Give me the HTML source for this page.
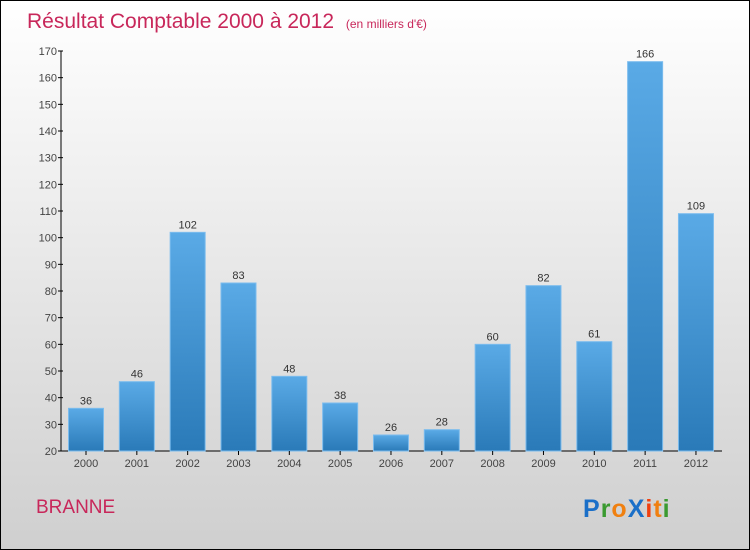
<!DOCTYPE html>
<html><head><meta charset="utf-8"><style>
body{margin:0}
#c{width:748px;height:548px;border:1px solid #000;background:linear-gradient(#fff,#cfcfcf);position:relative;font-family:"Liberation Sans",sans-serif;overflow:hidden}
</style></head><body>
<div id="c">
<svg id="s" width="748" height="548" xmlns="http://www.w3.org/2000/svg">
<defs><linearGradient id="g" x1="0" y1="0" x2="0" y2="1"><stop offset="0" stop-color="#5aaae6"/><stop offset="1" stop-color="#2a7ab8"/></linearGradient></defs>
<text x="26" y="27" font-size="21" fill="#c8275a">Résultat Comptable 2000 à 2012 <tspan font-size="12" dx="6">(en milliers d'€)</tspan></text>
<text x="35" y="512" font-size="19" fill="#c8275a">BRANNE</text>
<text x="582" y="516" font-size="25" font-weight="bold" letter-spacing="1"><tspan fill="#1a6fc8">P</tspan><tspan fill="#3a9a30">r</tspan><tspan fill="#f08010">o</tspan><tspan fill="#1a6fc8">X</tspan><tspan fill="#f04010">i</tspan><tspan fill="#f08010">t</tspan><tspan fill="#3a9a30">i</tspan></text>
<g id="plot"></g>
</svg></div>
<script>
const years=["2000","2001","2002","2003","2004","2005","2006","2007","2008","2009","2010","2011","2012"];
const values=[36,46,102,83,48,38,26,28,60,82,61,166,109];
const yTicks=[20,30,40,50,60,70,80,90,100,110,120,130,140,150,160,170];
const NS="http://www.w3.org/2000/svg",p=document.getElementById('plot');
const y=v=>450-(v-20)*400/150, x=i=>85+i*50.83;
function mk(t,a,txt){const e=document.createElementNS(NS,t);for(const k in a)e.setAttribute(k,a[k]);if(txt!=null)e.textContent=txt;p.appendChild(e);return e;}
let e=mk('line',{x1:60,y1:50,x2:60,y2:450,stroke:'#000'});

e=mk('line',{x1:60,y1:450,x2:721,y2:450,stroke:'#000'});

yTicks.forEach(v=>{mk('line',{x1:57,x2:62,y1:y(v),y2:y(v),stroke:'#000'});
e=mk('text',{x:56,y:y(v)+4,'font-size':11,'text-anchor':'end',fill:'#444'},v);
});
values.forEach((v,i)=>{
e=mk('rect',{x:x(i)-17.5,y:y(v),width:35,height:450-y(v),fill:'url(#g)',stroke:'#7bbcee','stroke-width':1});

e=mk('text',{x:x(i),y:y(v)-4,'font-size':11,'text-anchor':'middle',fill:'#333'},v);

mk('line',{x1:x(i),x2:x(i),y1:450,y2:454,stroke:'#000'});
e=mk('text',{x:x(i),y:466,'font-size':11,'text-anchor':'middle',fill:'#444'},years[i]);
});
</script>
</body></html>
